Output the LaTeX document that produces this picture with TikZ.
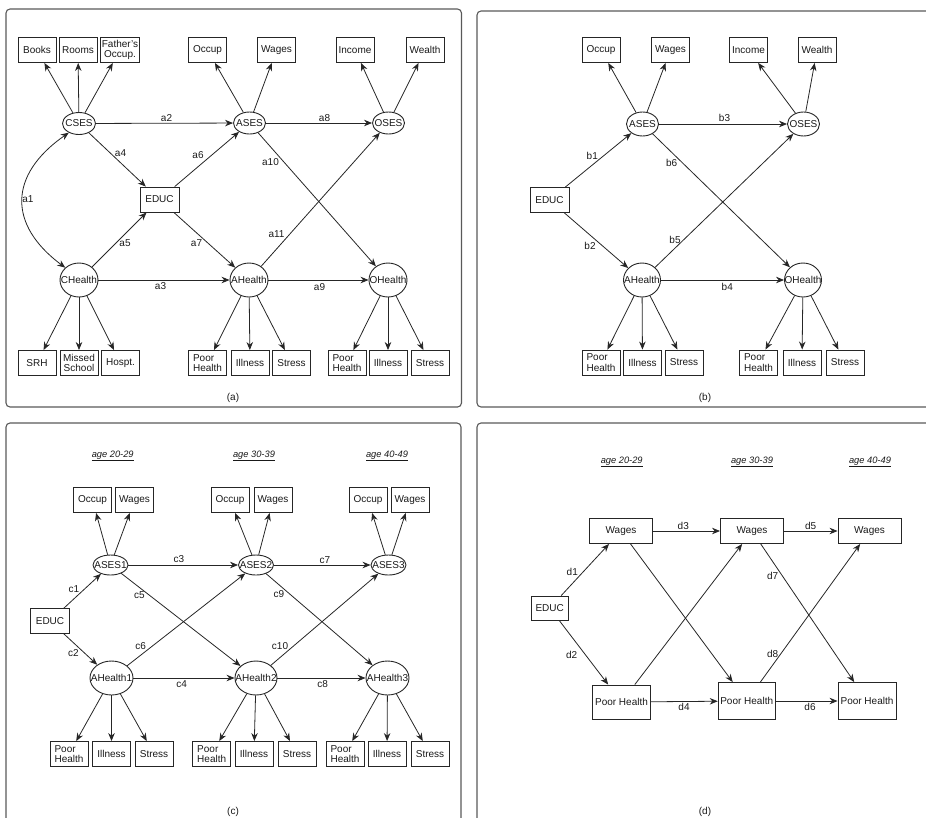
\documentclass[tikz,border=0pt]{standalone}
\usepackage{fontspec}
\setmainfont{Liberation Sans}
\usetikzlibrary{shapes.geometric,arrows.meta}
\newcommand\fsz{\fontsize{10}{12}\selectfont}
\newcommand\agefs{\fontsize{9.3}{11}\selectfont}
\newcommand\agetxt[1]{\underline{\textit{#1}}}
\tikzset{
  box/.style={draw=black!85, line width=0.9pt, minimum width=38pt, minimum height=25pt, inner sep=1pt, font=\fsz, align=center, text=black!90},
  boxl/.style={box, align=left},
  lat/.style={draw=black!85, ellipse, line width=0.9pt, inner sep=0pt, font=\fsz, text=black!90},
  arr/.style={-{Stealth[length=8pt,width=6.5pt]}, line width=0.8pt, draw=black!85},
  darr/.style={{Stealth[length=8pt,width=6.5pt]}-{Stealth[length=8pt,width=6.5pt]}, line width=0.8pt, draw=black!85},
  lbl/.style={font=\fsz, inner sep=0pt, text=black!90},
  agel/.style={font=\agefs, inner sep=0pt, text=black!90},
  panel/.style={draw=black!65, line width=1.1pt, rounded corners=4pt}
}
\begin{document}
\begin{tikzpicture}[x=1pt,y=-1pt]
\useasboundingbox (0,0) rectangle (926,817);
% panels
\draw[panel] (6,9) rectangle (461.5,407);
\draw[panel] (477,11) rectangle (940,407);
\draw[panel] (6,423) rectangle (461,840);
\draw[panel] (477,423) rectangle (940,840);

%%%%%%%%%%%%%%%% (a)
\node[box] (Books) at (37,50) {Books};
\node[box] (Rooms) at (78,50) {Rooms};
\node[box] (Fath) at (120,50) {Father's\\[-1.5pt]Occup.};
\node[box] (OccA) at (207.5,50) {Occup};
\node[box] (WagA) at (276.5,50) {Wages};
\node[box] (IncA) at (355,50) {Income};
\node[box] (WeaA) at (425,50) {Wealth};
\node[lat, minimum width=33pt, minimum height=22pt] (CSES) at (79,123.5) {\makebox[0pt]{CSES}};
\node[lat, minimum width=32pt, minimum height=22pt] (ASES) at (249.5,123) {\makebox[0pt]{ASES}};
\node[lat, minimum width=32pt, minimum height=22pt] (OSES) at (388.5,123) {\makebox[0pt]{OSES}};
\node[box, minimum width=39pt] (EDUCa) at (159.5,199.5) {EDUC};
\node[lat, minimum width=38pt, minimum height=34pt] (CH) at (79,280) {\makebox[0pt]{CHealth}};
\node[lat, minimum width=38pt, minimum height=34pt] (AH) at (249,280) {\makebox[0pt]{AHealth}};
\node[lat, minimum width=38pt, minimum height=34pt] (OH) at (388,280) {\makebox[0pt]{OHealth}};
\node[box] (SRH) at (37,363) {SRH};
\node[box] (Miss) at (79,363) {Missed\\[-1.5pt]School};
\node[box] (Hosp) at (120.5,363) {Hospt.};
\node[boxl] (PHa1) at (207.5,363) {Poor\\[-1.5pt]Health};
\node[box] (ILa1) at (250,363) {Illness};
\node[box] (STa1) at (291.5,363) {Stress};
\node[boxl] (PHa2) at (347,363) {Poor\\[-1.5pt]Health};
\node[box] (ILa2) at (388,363) {Illness};
\node[box] (STa2) at (430,363) {Stress};
\node[lbl] (capa) at (233,398) {(a)};

\draw[arr] (CSES) -- (Books);
\draw[arr] (CSES) -- (Rooms);
\draw[arr] (CSES) -- (Fath);
\draw[arr] (ASES) -- (OccA);
\draw[arr] (ASES) -- (WagA);
\draw[arr] (OSES) -- (IncA);
\draw[arr] (OSES) -- (WeaA);
\draw[arr] (CH) -- (SRH);
\draw[arr] (CH) -- (Miss);
\draw[arr] (CH) -- (Hosp);
\draw[arr] (AH) -- (PHa1);
\draw[arr] (AH) -- (ILa1);
\draw[arr] (AH) -- (STa1);
\draw[arr] (OH) -- (PHa2);
\draw[arr] (OH) -- (ILa2);
\draw[arr] (OH) -- (STa2);
\draw[darr] (CSES.222) .. controls (8,175) and (8,225) .. (CH.138);
\draw[arr] (CSES) -- (ASES);
\draw[arr] (CSES) -- (EDUCa);
\draw[arr] (EDUCa) -- (ASES);
\draw[arr] (CH) -- (EDUCa);
\draw[arr] (EDUCa) -- (AH);
\draw[arr] (CH) -- (AH);
\draw[arr] (ASES) -- (OSES);
\draw[arr] (ASES) -- (OH);
\draw[arr] (AH) -- (OSES);
\draw[arr] (AH) -- (OH);
\node[lbl] (la1) at (28,199) {a1};
\node[lbl] (la2) at (166.5,118.5) {a2};
\node[lbl] (la4) at (120.5,153) {a4};
\node[lbl] (la6) at (198,155) {a6};
\node[lbl] (la5) at (125,243) {a5};
\node[lbl] (la7) at (196.5,243) {a7};
\node[lbl] (la3) at (160.5,286.5) {a3};
\node[lbl] (la8) at (324.5,118) {a8};
\node[lbl] (la10) at (270.5,162) {a10};
\node[lbl] (la11) at (276.5,234.5) {a11};
\node[lbl] (la9) at (319.5,287) {a9};

%%%%%%%%%%%%%%%% (b)
\node[box] (OccB) at (601,50) {Occup};
\node[box] (WagB) at (670.5,50) {Wages};
\node[box] (IncB) at (748.5,50) {Income};
\node[box] (WeaB) at (817,50) {Wealth};
\node[lat, minimum width=32pt, minimum height=24pt] (ASESb) at (642.5,124) {\makebox[0pt]{ASES}};
\node[lat, minimum width=32pt, minimum height=24pt] (OSESb) at (803.5,124) {\makebox[0pt]{OSES}};
\node[box, minimum width=39pt] (EDUCb) at (549.5,200) {EDUC};
\node[lat, minimum width=37pt, minimum height=34pt] (AHb) at (642,280) {\makebox[0pt]{AHealth}};
\node[lat, minimum width=37pt, minimum height=34pt] (OHb) at (803,280) {\makebox[0pt]{OHealth}};
\node[boxl] (PHb1) at (601,362.5) {Poor\\[-1.5pt]Health};
\node[box] (ILb1) at (642.5,362.5) {Illness};
\node[box] (STb1) at (684,362.5) {Stress};
\node[boxl] (PHb2) at (758.5,362.5) {Poor\\[-1.5pt]Health};
\node[box] (ILb2) at (802,362.5) {Illness};
\node[box] (STb2) at (845,362.5) {Stress};
\node[lbl] (capb) at (705,398) {(b)};

\draw[arr] (ASESb) -- (OccB);
\draw[arr] (ASESb) -- (WagB);
\draw[arr] (OSESb) -- (IncB);
\draw[arr] (OSESb) -- (WeaB);
\draw[arr] (AHb) -- (PHb1);
\draw[arr] (AHb) -- (ILb1);
\draw[arr] (AHb) -- (STb1);
\draw[arr] (OHb) -- (PHb2);
\draw[arr] (OHb) -- (ILb2);
\draw[arr] (OHb) -- (STb2);
\draw[arr] (EDUCb) -- (ASESb);
\draw[arr] (EDUCb) -- (AHb);
\draw[arr] (ASESb) -- (OSESb);
\draw[arr] (ASESb) -- (OHb);
\draw[arr] (AHb) -- (OSESb);
\draw[arr] (AHb) -- (OHb);
\node[lbl] (lb1) at (592.3,156) {b1};
\node[lbl] (lb2) at (590,246) {b2};
\node[lbl] (lb3) at (724.5,118) {b3};
\node[lbl] (lb6) at (671.7,163.3) {b6};
\node[lbl] (lb5) at (675,239.5) {b5};
\node[lbl] (lb4) at (727.3,286.7) {b4};

%%%%%%%%%%%%%%%% (c)
\node[agel] (agec1) at (112.7,456) {\agetxt{age 20-29}};
\node[agel] (agec2) at (254,456) {\agetxt{age 30-39}};
\node[agel] (agec3) at (387,456) {\agetxt{age 40-49}};
\node[box] (OccC1) at (92.5,500) {Occup};
\node[box] (WagC1) at (134.5,500) {Wages};
\node[box] (OccC2) at (230,500) {Occup};
\node[box] (WagC2) at (273,500) {Wages};
\node[box] (OccC3) at (368,500) {Occup};
\node[box] (WagC3) at (410,500) {Wages};
\node[lat, minimum width=35pt, minimum height=20pt] (AS1) at (110.5,565) {\makebox[0pt]{ASES1}};
\node[lat, minimum width=35pt, minimum height=20pt] (AS2) at (256,565) {\makebox[0pt]{ASES2}};
\node[lat, minimum width=35pt, minimum height=20pt] (AS3) at (388.5,565) {\makebox[0pt]{ASES3}};
\node[box, minimum width=39pt] (EDUCc) at (50,621) {EDUC};
\node[lat, minimum width=43pt, minimum height=34pt] (AHc1) at (111.5,678) {\makebox[0pt]{AHealth1}};
\node[lat, minimum width=42pt, minimum height=34pt] (AHc2) at (256,678) {\makebox[0pt]{AHealth2}};
\node[lat, minimum width=43pt, minimum height=34pt] (AHc3) at (387.5,678) {\makebox[0pt]{AHealth3}};
\node[boxl] (PHc1) at (69,754) {Poor\\[-1.5pt]Health};
\node[box] (ILc1) at (111.5,754) {Illness};
\node[box] (STc1) at (154,754) {Stress};
\node[boxl] (PHc2) at (211.7,754) {Poor\\[-1.5pt]Health};
\node[box] (ILc2) at (254,754) {Illness};
\node[box] (STc2) at (297,754) {Stress};
\node[boxl] (PHc3) at (345,754) {Poor\\[-1.5pt]Health};
\node[box] (ILc3) at (387,754) {Illness};
\node[box] (STc3) at (430,754) {Stress};
\node[lbl] (capc) at (233,811.5) {(c)};

\draw[arr] (AS1) -- (OccC1);
\draw[arr] (AS1) -- (WagC1);
\draw[arr] (AS2) -- (OccC2);
\draw[arr] (AS2) -- (WagC2);
\draw[arr] (AS3) -- (OccC3);
\draw[arr] (AS3) -- (WagC3);
\draw[arr] (AHc1) -- (PHc1);
\draw[arr] (AHc1) -- (ILc1);
\draw[arr] (AHc1) -- (STc1);
\draw[arr] (AHc2) -- (PHc2);
\draw[arr] (AHc2) -- (ILc2);
\draw[arr] (AHc2) -- (STc2);
\draw[arr] (AHc3) -- (PHc3);
\draw[arr] (AHc3) -- (ILc3);
\draw[arr] (AHc3) -- (STc3);
\draw[arr] (EDUCc) -- (AS1);
\draw[arr] (EDUCc) -- (AHc1);
\draw[arr] (AS1) -- (AS2);
\draw[arr] (AS1) -- (AHc2);
\draw[arr] (AHc1) -- (AS2);
\draw[arr] (AHc1) -- (AHc2);
\draw[arr] (AS2) -- (AS3);
\draw[arr] (AS2) -- (AHc3);
\draw[arr] (AHc2) -- (AS3);
\draw[arr] (AHc2) -- (AHc3);
\node[lbl] (lc1) at (74,589) {c1};
\node[lbl] (lc2) at (73.3,652.7) {c2};
\node[lbl] (lc3) at (179,559) {c3};
\node[lbl] (lc5) at (139.3,595.5) {c5};
\node[lbl] (lc6) at (140.7,646) {c6};
\node[lbl] (lc4) at (181.7,684) {c4};
\node[lbl] (lc7) at (325,560) {c7};
\node[lbl] (lc9) at (279,594) {c9};
\node[lbl] (lc10) at (280,646) {c10};
\node[lbl] (lc8) at (322.7,684) {c8};

%%%%%%%%%%%%%%%% (d)
\node[agel] (aged1) at (621.7,462) {\agetxt{age 20-29}};
\node[agel] (aged2) at (752,462) {\agetxt{age 30-39}};
\node[agel] (aged3) at (870,462) {\agetxt{age 40-49}};
\node[box, minimum width=63pt] (W1) at (621,531) {Wages};
\node[box, minimum width=63pt] (W2) at (752,531) {Wages};
\node[box, minimum width=63pt] (W3) at (869.5,531) {Wages};
\node[box, minimum width=37pt, minimum height=24pt] (EDUCd) at (549.7,608) {EDUC};
\node[box, minimum width=58pt, minimum height=34pt] (PH1) at (621.5,702) {Poor Health};
\node[box, minimum width=57pt, minimum height=37pt] (PH2) at (746.7,701) {Poor Health};
\node[box, minimum width=58pt, minimum height=37pt] (PH3) at (867,701) {Poor Health};
\node[lbl] (capd) at (705,812) {(d)};

\draw[arr] (EDUCd) -- (W1);
\draw[arr] (EDUCd) -- (PH1);
\draw[arr] (W1) -- (W2);
\draw[arr] (W2) -- (W3);
\draw[arr] (PH1) -- (PH2);
\draw[arr] (PH2) -- (PH3);
\draw[arr] (W1) -- (PH2);
\draw[arr] (PH1) -- (W2);
\draw[arr] (W2) -- (PH3);
\draw[arr] (PH2) -- (W3);
\node[lbl] (ld1) at (572.3,572.3) {d1};
\node[lbl] (ld2) at (571.7,655) {d2};
\node[lbl] (ld3) at (683.3,526) {d3};
\node[lbl] (ld5) at (810.7,526) {d5};
\node[lbl] (ld7) at (772.7,575.7) {d7};
\node[lbl] (ld8) at (772.7,654.3) {d8};
\node[lbl] (ld4) at (684,706.7) {d4};
\node[lbl] (ld6) at (810,706.7) {d6};
\end{tikzpicture}
\end{document}
